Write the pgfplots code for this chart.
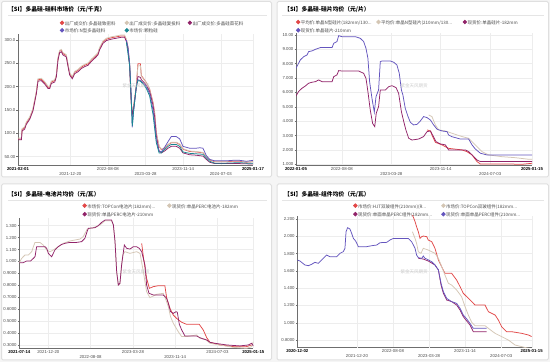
\documentclass[border=0pt]{standalone}
\usepackage{pgfplots}
\pgfplotsset{compat=1.18}
\usepackage{fontspec}
\setmainfont{Liberation Sans}
\newfontfamily\cjk{Noto Sans CJK SC}
\definecolor{cRed}{RGB}{226,72,72}
\definecolor{cBeige}{RGB}{212,198,180}
\definecolor{cMaroon}{RGB}{145,35,105}
\definecolor{cBlue}{RGB}{100,85,190}
\definecolor{cTeal}{RGB}{25,135,145}
\definecolor{axisgray}{RGB}{110,110,110}
\definecolor{ticktxt}{RGB}{75,75,75}
\pgfplotsset{
  panel/.style={
    scale only axis,
    axis x line*=bottom, axis y line*=left,
    axis line style={axisgray, line width=0.5pt},
    xmajorgrids, ymajorgrids,
    grid style={gray!14, line width=0.4pt},
    tick style={axisgray, line width=0.4pt},
    major tick length=1.5pt,
    tick align=outside,
    xtick style={draw=none},
    ticklabel style={font=\fontsize{4.3}{5}\selectfont, text=ticktxt},
    xticklabel style={inner sep=0.5pt},
    yticklabel style={inner sep=1pt},
    extra x tick style={xticklabel style={yshift=-5pt}, grid=major},
    every axis plot/.append style={line width=0.75pt},
    legend image code/.code={\fill[##1] (0pt,1.5pt) circle (1.8pt);},
    legend style={draw=none, fill=none, inner sep=0pt, outer sep=0pt, anchor=north west,
      font=\cjk\fontsize{4.5}{5}\selectfont, text=ticktxt,
      nodes={inner sep=0.5pt, text height=3.3pt, text depth=1.2pt},
      /tikz/every even column/.append style={column sep=0pt}},
    legend cell align=left,
  },
}
\begin{document}
\begin{tikzpicture}[x=1pt,y=1pt]
\useasboundingbox (0pt,0pt) rectangle (550pt,362pt);
\fill[gray!8] (0pt,0pt) rectangle (550pt,362pt);
\foreach \xa/\ya/\xb/\yb in {1.5/185/271.5/360.5, 277/185/548.5/360.5, 1.5/2/271.5/178, 277/2/548.5/178}
  {\filldraw[fill=white, draw=gray!25, line width=1pt, rounded corners=1.5pt] (\xa pt,\ya pt) rectangle (\xb pt,\yb pt);}
% titles
\node[anchor=west, font=\cjk\bfseries\fontsize{5.8}{7}\selectfont, inner sep=0] at (8pt,352pt) {【SI】多晶硅-硅料市场价（元/千克）};
\node[anchor=west, font=\cjk\bfseries\fontsize{5.8}{7}\selectfont, inner sep=0] at (284pt,352pt) {【SI】多晶硅-硅片均价（元/片）};
\node[anchor=west, font=\cjk\bfseries\fontsize{5.8}{7}\selectfont, inner sep=0] at (8pt,167pt) {【SI】多晶硅-电池片均价（元/瓦）};
\node[anchor=west, font=\cjk\bfseries\fontsize{5.8}{7}\selectfont, inner sep=0] at (284pt,167pt) {【SI】多晶硅-组件均价（元/瓦）};
\draw[gray!20, line width=1.2pt] (8pt,346.3pt) -- (267pt,346.3pt);
\draw[gray!20, line width=1.2pt] (282pt,346.3pt) -- (544pt,346.3pt);
\draw[gray!20, line width=1.2pt] (8pt,161.5pt) -- (267pt,161.5pt);
\draw[gray!20, line width=1.2pt] (282pt,161.5pt) -- (544pt,161.5pt);

% ---------------- Panel 1 ----------------
\begin{axis}[panel, at={(18pt,197pt)}, anchor=south west, width=235pt, height=130.5pt,
  xmin=61, xmax=1507, ymin=32, ymax=312,
  xtick={61,614,1077,1507}, xticklabels={\textbf{\color{black}2021-02-01},2022-08-08,2023-11-14,\textbf{\color{black}2025-01-17}},
  extra x ticks={383,846,1309}, extra x tick labels={2021-12-20,2023-03-28,2024-07-03},
  ytick={50,100,150,200,250,300}, yticklabels={50.00,100.0,150.0,200.0,250.0,300.0},
  legend columns=3,
  legend style={at={(axis description cs:0.1783,1.1064)}, row sep=1.1pt},
]
\addplot[cRed] coordinates {(61,88)(82,88)(86,108)(102,112)(112,122)(133,133)(153,151)(174,188)(184,215)(205,216)(225,209)(246,199)(256,199)(266,210)(287,213)(297,224)(307,260)(317,276)(328,278)(338,271)(358,267)(369,246)(379,228)(395,220)(410,231)(430,235)(451,242)(471,246)(492,249)(512,257)(533,264)(553,271)(563,282)(584,296)(605,302)(635,305)(666,307)(697,309)(717,309)(728,300)(738,282)(748,246)(758,166)(764,144)(773,159)(789,202)(799,249)(814,249)(820,224)(834,217)(851,209)(871,195)(892,166)(902,144)(912,101)(929,72)(943,65)(963,68)(984,75)(1004,80)(1035,80)(1056,76)(1076,66)(1117,61)(1158,60)(1199,58)(1220,50)(1240,43)(1271,39)(1343,39)(1384,40)(1425,40)(1466,38)(1507,39)};
\addlegendentry{\makebox[59.4pt][l]{出厂成交价:多晶硅致密料}}
\addplot[cBeige] coordinates {(61,90)(82,90)(86,110)(102,114)(112,124)(133,135)(153,153)(174,190)(184,217)(205,218)(225,211)(246,201)(256,201)(266,212)(287,215)(297,226)(307,262)(317,278)(328,280)(338,273)(358,269)(369,248)(379,230)(395,222)(410,233)(430,237)(451,244)(471,248)(492,251)(512,259)(533,266)(553,273)(563,284)(584,298)(605,304)(635,307)(666,309)(697,311)(717,311)(728,302)(738,284)(748,248)(758,168)(764,146)(773,161)(789,200)(799,245)(814,245)(820,222)(834,216)(851,208)(871,194)(892,164)(902,142)(912,100)(929,73)(943,66)(963,69)(984,76)(1004,81)(1035,81)(1056,77)(1076,67)(1117,62)(1158,61)(1199,59)(1220,51)(1240,44)(1271,40)(1343,40)(1384,41)(1425,41)(1466,39)(1507,40)};
\addlegendentry{\makebox[57.7pt][l]{出厂成交价:多晶硅复投料}}
\addplot[cMaroon] coordinates {(61,86)(82,86)(86,105)(102,109)(112,119)(133,130)(153,148)(174,185)(184,212)(205,213)(225,206)(246,196)(256,196)(266,207)(287,210)(297,221)(307,257)(317,273)(328,275)(338,268)(358,264)(369,243)(379,225)(395,217)(410,228)(430,232)(451,239)(471,243)(492,246)(512,254)(533,261)(553,268)(563,279)(584,293)(605,299)(635,302)(666,304)(697,306)(717,306)(728,297)(738,280)(748,244)(758,164)(764,140)(773,155)(789,198)(799,222)(814,220)(820,215)(834,210)(851,203)(871,190)(892,160)(902,135)(912,95)(929,62)(943,58)(963,62)(984,68)(1004,72)(1035,72)(1056,68)(1076,58)(1117,54)(1158,53)(1199,51)(1220,44)(1240,38)(1271,35)(1343,35)(1425,35)(1507,34)};
\addlegendentry{出厂成交价:多晶硅菜花料}
\addplot[cBlue] coordinates {(728,300)(738,285)(748,250)(758,180)(764,113)(773,150)(789,200)(799,215)(814,213)(834,207)(851,200)(871,185)(892,150)(902,120)(912,85)(929,62)(943,60)(963,70)(984,82)(1004,93)(1035,93)(1056,88)(1076,72)(1117,68)(1158,68)(1179,69)(1199,68)(1220,52)(1240,44)(1271,41)(1343,41)(1384,42)(1425,42)(1466,40)(1507,42)};
\addlegendentry{市场价:N型多晶硅料}
\addplot[cTeal] coordinates {(728,295)(748,245)(758,170)(764,115)(773,150)(789,200)(799,213)(814,212)(834,205)(851,196)(871,180)(892,140)(902,110)(912,80)(929,58)(943,58)(963,65)(984,72)(1004,76)(1035,76)(1056,72)(1076,60)(1117,57)(1158,56)(1199,55)(1220,47)(1240,40)(1271,36)(1343,36)(1425,37)(1466,36)(1507,36)};
\addlegendentry{市场价:颗粒硅}
\end{axis}
\node[font=\cjk\fontsize{4.5}{5}\selectfont, text=gray!40] at (136pt,276pt) {紫金天风期货};

% ---------------- Panel 2 ----------------
\begin{axis}[panel, at={(296pt,197pt)}, anchor=south west, width=236pt, height=132.2pt,
  xmin=399, xmax=1505, ymin=0.951, ymax=10.15,
  xtick={399,614,1077,1505}, xticklabels={\textbf{\color{black}2022-01-05},2022-08-08,2023-11-14,\textbf{\color{black}2025-01-15}},
  extra x ticks={846,1309}, extra x tick labels={2023-03-28,2024-07-03},
  ytick={1,2,3,4,5,6,7,8,9,10}, yticklabels={1.000,2.000,3.000,4.000,5.000,6.000,7.000,8.000,9.000,10.00},
  legend columns=3,
  legend style={at={(axis description cs:0.0,1.098)}, row sep=1.8pt},
]
\addplot[cRed] coordinates {(1013,3.39)(1029,3.32)(1036,3.04)(1052,2.53)(1083,2.35)(1114,2.11)(1177,2.0)(1200,1.88)(1224,1.65)(1247,1.19)(1263,1.02)(1396,1.02)(1458,1.0)(1505,1.07)};
\addlegendentry{\makebox[75pt][l]{平均价:单晶N型硅片(182mm/130...}}
\addplot[cBeige] coordinates {(1021,4.43)(1036,4.32)(1052,3.74)(1068,3.39)(1099,3.32)(1130,3.16)(1177,2.93)(1208,2.81)(1239,2.35)(1271,1.88)(1302,1.65)(1364,1.53)(1427,1.46)(1489,1.35)(1505,1.35)};
\addlegendentry{\makebox[81pt][l]{平均价:单晶N型硅片(210mm/130...}}
\addplot[cMaroon] coordinates {(399,5.76)(411,6.06)(427,6.29)(443,6.45)(458,6.64)(474,6.71)(490,6.75)(505,6.87)(521,6.75)(568,6.75)(576,7.1)(591,7.22)(599,7.52)(615,7.49)(693,7.49)(716,7.33)(727,6.98)(736,6.06)(747,4.78)(758,3.85)(768,3.62)(775,4.55)(786,5.01)(794,6.17)(818,6.17)(833,6.4)(849,6.47)(868,6.33)(880,5.94)(893,4.66)(904,3.97)(914,3.39)(927,2.81)(943,2.69)(974,2.76)(997,2.93)(1013,3.27)(1029,3.32)(1039,3.04)(1055,2.58)(1075,2.42)(1099,2.35)(1114,2.0)(1193,2.0)(1208,1.88)(1224,1.65)(1247,1.30)(1263,1.19)(1505,1.19)};
\addlegendentry{现货价:单晶硅片-182mm}
\addplot[cBlue] coordinates {(399,7.68)(411,8.03)(419,8.26)(435,8.49)(451,8.61)(458,8.84)(474,8.89)(490,9.0)(513,9.12)(568,9.12)(576,9.42)(591,9.54)(599,9.95)(615,9.88)(677,9.88)(700,9.77)(716,9.54)(727,9.07)(736,8.38)(744,6.75)(755,5.59)(766,4.62)(774,5.71)(786,6.17)(794,8.14)(802,8.19)(841,8.19)(857,8.10)(872,7.91)(883,7.33)(893,6.17)(900,5.82)(911,4.9)(924,4.32)(935,3.92)(950,3.74)(966,3.78)(982,4.02)(997,4.32)(1013,4.25)(1029,4.08)(1044,3.74)(1060,3.44)(1083,3.32)(1107,3.27)(1114,3.04)(1130,2.92)(1169,2.76)(1208,2.76)(1224,2.35)(1239,2.07)(1263,1.77)(1294,1.65)(1396,1.65)(1505,1.65)};
\addlegendentry{现货价:单晶硅片-210mm}
\end{axis}
\node[font=\cjk\fontsize{4.5}{5}\selectfont, text=gray!40] at (414pt,276pt) {紫金天风期货};

% ---------------- Panel 3 ----------------
\begin{axis}[panel, at={(19.3pt,13.7pt)}, anchor=south west, width=234pt, height=130pt,
  xmin=224, xmax=1505, ymin=0.272, ymax=1.362,
  xtick={224,383,846,1309,1505}, xticklabels={\textbf{\color{black}2021-07-14},2021-12-20,2023-03-28,2024-07-03,\textbf{\color{black}2025-01-15}},
  extra x ticks={614,1077}, extra x tick labels={2022-08-08,2023-11-14},
  ytick={0.3,0.4,0.5,0.6,0.7,0.8,0.9,1.0,1.1,1.2,1.3}, yticklabels={0.3000,0.4000,0.5000,0.6000,0.7000,0.8000,0.9000,1.000,1.100,1.200,1.300},
  legend columns=2,
  legend style={at={(axis description cs:0.270,1.114)}, row sep=2.1pt},
]
\addplot[cRed] coordinates {(894,1.152)(903,1.04)(921,0.859)(936,0.775)(958,0.789)(985,0.797)(1021,0.797)(1031,0.691)(1049,0.607)(1067,0.551)(1085,0.523)(1113,0.49)(1140,0.473)(1209,0.473)(1231,0.426)(1250,0.361)(1268,0.322)(1323,0.3)(1396,0.286)(1468,0.286)(1496,0.3)};
\addlegendentry{\makebox[79.4pt][l]{市场价:TOPCon电池片(182mm)...}}
\addplot[cBeige] coordinates {(224,0.99)(237,1.026)(255,1.054)(273,1.054)(292,1.082)(301,1.124)(310,1.16)(337,1.16)(355,1.138)(374,1.096)(392,1.082)(410,1.096)(437,1.124)(465,1.152)(501,1.172)(556,1.188)(574,1.208)(596,1.272)(629,1.283)(666,1.306)(693,1.342)(729,1.342)(739,1.306)(748,1.166)(757,0.915)(766,0.803)(775,0.817)(790,1.054)(802,1.082)(830,1.068)(866,1.082)(885,1.068)(903,0.915)(921,0.747)(939,0.697)(976,0.725)(1012,0.733)(1027,0.677)(1040,0.621)(1052,0.537)(1067,0.482)(1094,0.412)(1113,0.37)(1140,0.37)(1195,0.384)(1213,0.356)(1240,0.35)(1268,0.314)(1323,0.3)(1396,0.28)(1468,0.272)(1496,0.286)(1505,0.328)};
\addlegendentry{现货价:单晶PERC电池片-182mm}
\addplot[cMaroon] coordinates {(224,0.99)(246,0.99)(264,1.004)(286,1.004)(301,1.026)(310,1.04)(319,1.124)(365,1.124)(374,1.11)(383,1.068)(401,1.04)(419,1.096)(437,1.124)(456,1.143)(474,1.152)(501,1.16)(538,1.16)(565,1.166)(583,1.194)(596,1.255)(602,1.278)(638,1.283)(656,1.3)(675,1.328)(693,1.347)(729,1.347)(739,1.306)(748,1.166)(757,0.915)(766,0.803)(775,0.817)(784,0.97)(799,1.138)(812,1.11)(830,1.104)(848,1.124)(866,1.124)(881,1.11)(894,1.082)(912,0.97)(921,0.803)(934,0.733)(958,0.719)(1012,0.719)(1031,0.691)(1040,0.649)(1052,0.579)(1067,0.565)(1082,0.579)(1089,0.574)(1100,0.473)(1113,0.426)(1131,0.375)(1195,0.375)(1213,0.361)(1231,0.35)(1250,0.342)(1268,0.322)(1295,0.314)(1359,0.3)(1432,0.292)(1478,0.3)(1496,0.314)(1505,0.292)};
\addlegendentry{现货价:单晶PERC电池片-210mm}
\end{axis}
\node[font=\cjk\fontsize{4.5}{5}\selectfont, text=gray!40] at (136pt,90.3pt) {紫金天风期货};

% ---------------- Panel 4 ----------------
\begin{axis}[panel, at={(297.3pt,14.3pt)}, anchor=south west, width=234.4pt, height=131.7pt,
  xmin=0, xmax=1505, ymin=0.711, ymax=2.235,
  xtick={0,614,1077,1505}, xticklabels={\textbf{\color{black}2020-12-02},2022-08-08,2023-11-14,\textbf{\color{black}2025-01-15}},
  extra x ticks={383,846,1309}, extra x tick labels={2021-12-20,2023-03-28,2024-07-03},
  ytick={0.8,1.0,1.2,1.4,1.6,1.8,2.0,2.2}, yticklabels={0.8000,1.000,1.200,1.400,1.600,1.800,2.000,2.200},
  legend columns=2,
  legend style={at={(axis description cs:0.2385,1.095)}, row sep=2.1pt},
]
\addplot[cRed] coordinates {(739,2.25)(756,2.17)(766,2.11)(777,2.053)(788,1.976)(799,1.996)(809,2.003)(831,1.996)(841,1.957)(863,1.938)(884,1.861)(906,1.726)(927,1.648)(948,1.572)(991,1.572)(1023,1.494)(1045,1.417)(1066,1.34)(1088,1.301)(1120,1.244)(1141,1.205)(1205,1.205)(1227,1.128)(1270,1.089)(1291,1.031)(1312,0.954)(1344,0.896)(1377,0.896)(1441,0.877)(1484,0.858)(1505,0.839)};
\addlegendentry{\makebox[82.7pt][l]{市场价:HJT双玻组件(210mm)(R...}}
\addplot[cBeige] coordinates {(739,2.053)(756,1.976)(766,1.918)(777,1.822)(794,1.803)(809,1.861)(841,1.841)(863,1.822)(884,1.803)(906,1.745)(927,1.648)(948,1.552)(970,1.456)(991,1.436)(1023,1.379)(1055,1.301)(1077,1.186)(1098,1.089)(1120,1.004)(1141,0.966)(1205,0.966)(1227,0.935)(1270,0.877)(1312,0.839)(1355,0.8)(1398,0.742)(1441,0.723)(1484,0.704)(1505,0.69)};
\addlegendentry{市场价:TOPCon双玻组件(182mm...}
\addplot[cMaroon] coordinates {(777,1.745)(809,1.737)(841,1.714)(884,1.668)(906,1.61)(923,1.436)(938,1.34)(959,1.263)(991,1.244)(1023,1.205)(1045,1.147)(1066,1.07)(1088,1.02)(1109,0.974)(1130,0.896)(1216,0.896)};
\addlegendentry{现货价:单面单晶PERC组件(182mm...}
\addplot[cBlue] coordinates {(0,1.726)(17,1.714)(49,1.668)(71,1.66)(92,1.676)(113,1.699)(135,1.687)(156,1.726)(188,1.783)(210,1.764)(253,1.764)(274,1.803)(295,1.822)(306,1.861)(313,2.053)(323,2.1)(338,2.084)(349,2.034)(360,1.976)(375,1.945)(392,1.88)(445,1.88)(477,1.891)(510,1.899)(531,1.926)(574,1.93)(595,1.957)(617,1.976)(713,1.976)(734,1.938)(756,1.861)(766,1.783)(777,1.753)(799,1.745)(809,1.772)(820,1.745)(831,1.737)(863,1.706)(884,1.668)(906,1.61)(923,1.456)(938,1.359)(959,1.282)(991,1.244)(1023,1.224)(1045,1.166)(1066,1.089)(1088,1.043)(1109,0.993)(1130,0.935)(1141,0.935)(1216,0.935)};
\addlegendentry{现货价:单面单晶PERC组件(210mm...}
\end{axis}
\node[font=\cjk\fontsize{4.5}{5}\selectfont, text=gray!40] at (414pt,90.3pt) {紫金天风期货};
\end{tikzpicture}
\end{document}
